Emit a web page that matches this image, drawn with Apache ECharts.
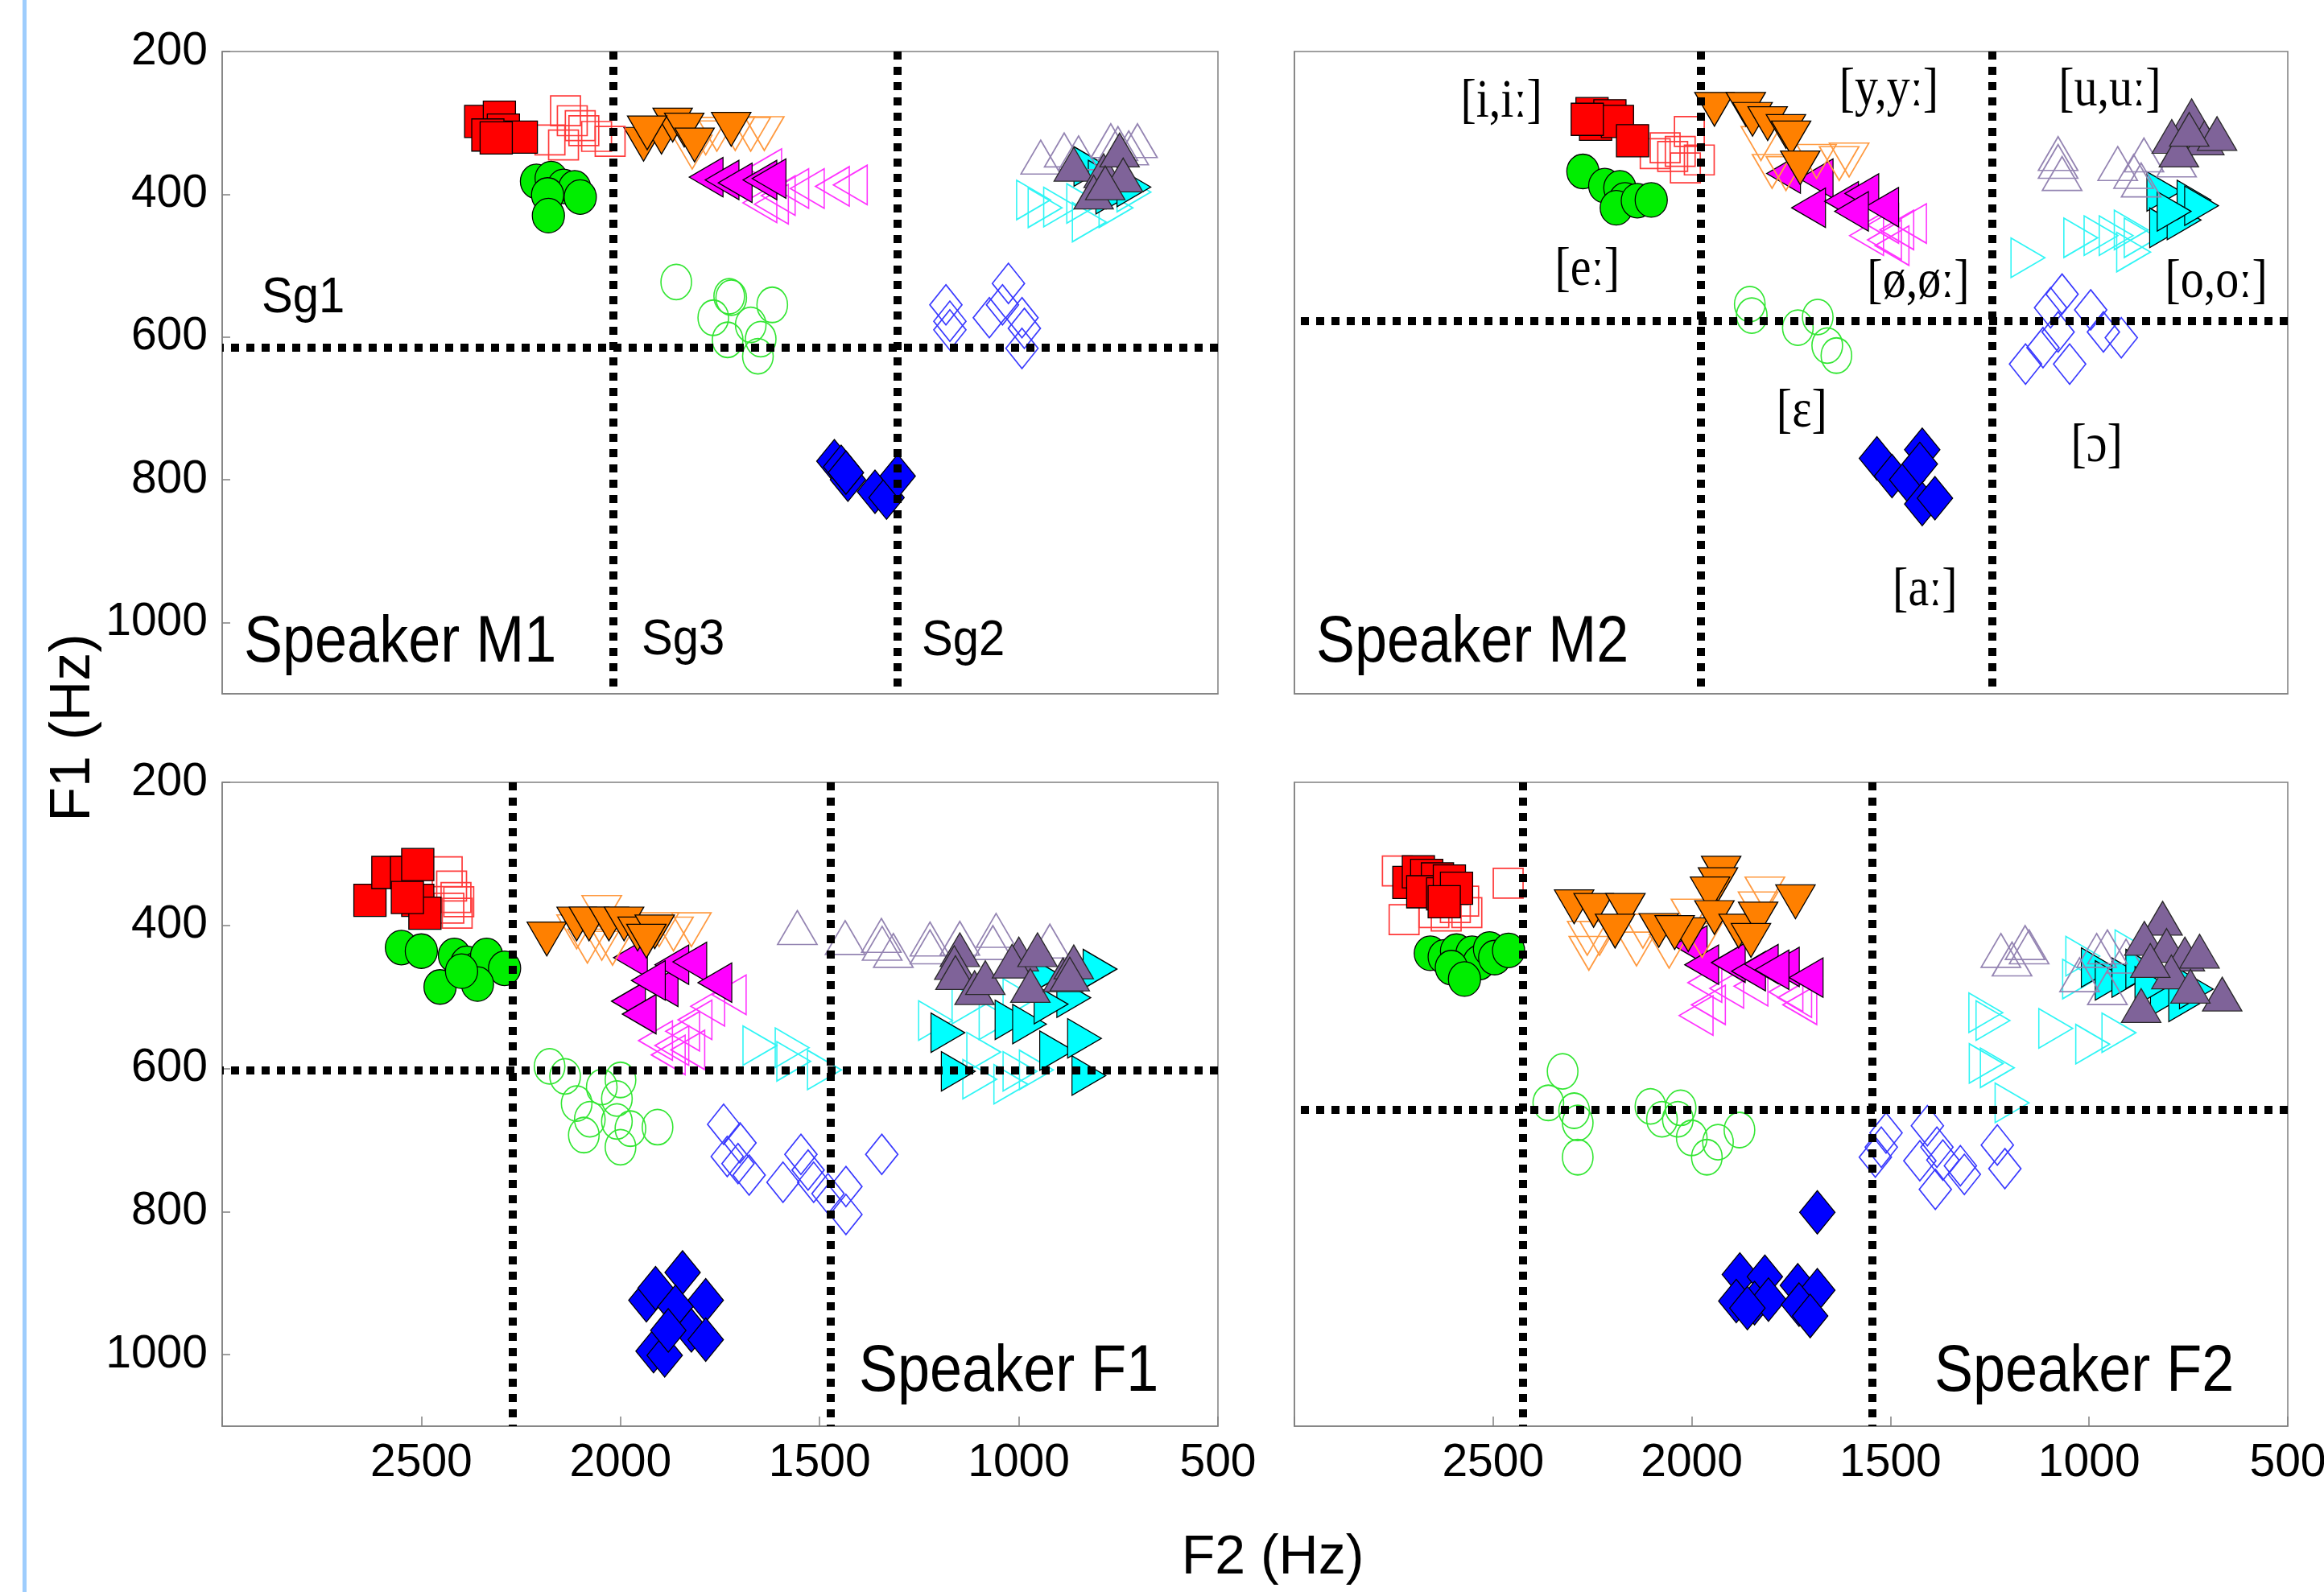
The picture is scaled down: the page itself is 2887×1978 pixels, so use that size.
<!DOCTYPE html>
<html><head><meta charset="utf-8">
<script src="https://cdn.jsdelivr.net/npm/echarts@6/dist/echarts.min.js"></script>
<style>html,body{margin:0;padding:0;background:#fff}#c{width:2887px;height:1978px}</style>
</head><body><div id="c"></div>
<script>
// ---------- tick labels ----------
const xTickLabels = [2500, 2000, 1500, 1000, 500];
const yTickLabels = [200, 400, 600, 800, 1000];
const speakers = ['Speaker M1', 'Speaker M2', 'Speaker F1', 'Speaker F2'];

// ---------- Speaker M1 ([F2, F1] in Hz) ----------
const M1_i_long = [[2351,298],[2304,292],[2294,310],[2333,317],[2249,320],[2312,321]];
const M1_i_short = [[2138,283],[2121,297],[2101,304],[2177,324],[2143,331],[2092,311],[2026,326],[2060,319]];
const M1_ee = [[2211,382],[2174,378],[2143,389],[2115,391],[2101,404],[2183,401],[2181,430]];
const M1_eps = [[1860,523],[1727,543],[1722,545],[1767,573],[1673,583],[1619,555],[1731,604],[1648,603],[1655,627]];
const M1_y_long = [[1942,330],[1897,320],[1869,303],[1840,310],[1814,331],[1722,309],[1933,314]];
const M1_y_short = [[1820,341],[1758,316],[1712,315],[1673,316],[1639,315],[1786,321]];
const M1_oe_long = [[1785,376],[1745,380],[1712,384],[1650,380],[1627,378]];
const M1_oe_short = [[1638,364],[1650,412],[1621,414],[1570,392],[1531,392],[1468,389],[1423,387],[1604,402]];
const M1_u_long = [[862,358],[787,367],[747,338],[738,373],[812,397],[783,384]];
const M1_u_short = [[945,348],[886,338],[850,342],[769,325],[751,329],[702,325],[724,335]];
const M1_o_long = [[819,361],[764,400],[738,393],[711,390],[783,380]];
const M1_o_short = [[963,408],[934,419],[895,418],[823,439],[837,413],[756,419],[711,397]];
const M1_aa = [[1463,774],[1446,782],[1429,800],[1361,817],[1332,825],[1304,795],[1434,790]];
const M1_open_o = [[1183,555],[1173,578],[1173,590],[1074,573],[1026,525],[1041,555],[992,573],[986,588],[992,616]];
const M1_bound_F2 = [2018, 1304];
const M1_bound_F1 = [615];

// ---------- Speaker M2 ----------
const M2_i_long = [[2251,287],[2242,302],[2206,290],[2187,298],[2149,325],[2263,295]];
const M2_i_short = [[2006,312],[2067,335],[2048,347],[2029,340],[1981,352],[2016,363],[2092,343]];
const M2_ee = [[2274,368],[2219,388],[2181,391],[2168,408],[2190,419],[2137,409],[2102,408]];
const M2_eps = [[1854,554],[1849,570],[1733,587],[1683,572],[1659,612],[1636,626]];
const M2_y_long = [[1943,281],[1864,281],[1847,295],[1809,301],[1763,312],[1750,321],[1727,363]];
const M2_y_short = [[1826,329],[1798,368],[1763,371],[1686,354],[1629,357],[1604,352]];
const M2_oe_long = [[1769,371],[1687,378],[1706,419],[1623,410],[1572,399],[1522,418],[1598,424]];
const M2_oe_short = [[1522,441],[1484,450],[1452,441],[1515,464],[1496,472],[1560,458]];
const M2_u_long = [[742,290],[792,319],[710,321],[678,315],[774,338],[748,309]];
const M2_u_short = [[1078,343],[1078,354],[1068,371],[928,357],[862,345],[888,368],[869,380],[780,352]];
const M2_o_long = [[812,396],[805,447],[761,436],[736,408],[717,416],[786,424]];
const M2_o_short = [[1154,489],[1021,461],[970,458],[932,458],[888,481],[894,450],[869,461]];
const M2_aa = [[1534,770],[1496,795],[1458,800],[1420,758],[1426,778],[1420,834],[1388,826]];
const M2_open_o = [[1068,540],[1097,559],[1078,593],[1116,615],[1160,638],[1049,638],[996,562],[964,593],[919,601]];
const M2_bound_F2 = [1978, 1245];
const M2_bound_F1 = [577];

// ---------- Speaker F1 ----------
const F1_i_long = [[2629,365],[2584,326],[2537,326],[2509,315],[2509,365],[2491,383],[2535,361]];
const F1_i_short = [[2435,325],[2424,345],[2413,361],[2406,367],[2410,383],[2431,376]];
const F1_ee = [[2550,431],[2500,436],[2453,486],[2417,442],[2386,453],[2363,462],[2336,442],[2291,460],[2359,482],[2399,464]];
const F1_eps = [[2178,597],[2139,611],[2110,649],[2077,671],[2047,626],[2009,642],[2000,616],[2009,674],[1975,684],[1907,682],[2092,693],[2000,710]];
const F1_y_long = [[2185,419],[2110,398],[2079,398],[2029,398],[1991,398],[1957,412],[1914,409],[1935,422]];
const F1_y_short = [[2110,409],[2083,429],[2047,425],[2020,432],[1903,406],[1867,412],[1822,406],[2047,382]];
const F1_oe_long = [[1975,445],[1980,506],[1953,524],[1898,486],[1871,455],[1826,451],[1763,480],[1930,477]];
const F1_oe_short = [[1727,497],[1781,513],[1813,532],[1844,548],[1912,561],[1871,568],[1831,574],[1880,581]];
const F1_u_long = [[1148,434],[1162,452],[1159,466],[1111,487],[1084,473],[1000,440],[1017,450],[953,434],[971,484],[889,469],[862,451],[872,468]];
const F1_u_short = [[1556,403],[1436,417],[1345,414],[1343,425],[1315,435],[1223,419],[1223,430],[1148,418],[1057,407],[1065,424],[922,422]];
const F1_o_long = [[1178,550],[1152,604],[1017,532],[973,538],[905,575],[835,558],[824,610],[796,461],[862,501],[919,510],[936,470]];
const F1_o_short = [[1650,568],[1569,571],[1565,590],[1488,602],[1209,533],[1125,510],[1098,615],[1088,577],[1057,532],[1020,622],[997,604],[956,602],[997,502]];
const F1_aa = [[1935,924],[1912,907],[1844,885],[1786,924],[1862,933],[1822,966],[1786,979],[1917,995],[1889,1001],[1880,966]];
const F1_open_o = [[1741,678],[1700,704],[1732,723],[1705,733],[1677,749],[1592,759],[1547,720],[1529,742],[1515,759],[1479,775],[1434,765],[1434,804],[1344,720]];
const F1_bound_F2 = [2270, 1472];
const F1_bound_F1 = [602];

// ---------- Speaker F2 ----------
const F2_i_long = [[2712,340],[2688,325],[2667,330],[2640,335],[2677,353],[2627,356],[2610,338],[2592,348],[2623,367]];
const F2_i_short = [[2741,324],[2724,392],[2462,341],[2574,366],[2566,382],[2595,375],[2618,387],[2649,382],[2600,350]];
const F2_ee = [[2658,439],[2623,444],[2592,436],[2572,462],[2553,439],[2535,452],[2509,433],[2496,445],[2461,435],[2605,459],[2572,475]];
const F2_eps = [[2325,604],[2361,648],[2296,659],[2287,676],[2287,724],[2104,653],[2075,671],[2028,655],[2035,671],[2000,697],[1962,724],[1934,703],[1880,686]];
const F2_y_long = [[2296,374],[2247,379],[2167,379],[2193,408],[2083,407],[2009,413],[1926,327],[1934,343],[1954,356],[1943,389],[1882,408],[1833,391],[1851,421],[1739,367],[2043,410]];
const F2_y_short = [[2263,418],[2259,439],[2232,418],[2123,408],[2139,433],[2057,436],[2002,387],[1974,421],[1816,356],[1833,377]];
const F2_oe_long = [[2004,428],[1975,455],[1908,452],[1857,464],[1825,454],[1772,458],[1712,473],[1798,462]];
const F2_oe_short = [[1967,480],[1989,526],[1958,511],[1912,488],[1851,485],[1763,493],[1728,511],[1741,501]];
const F2_u_long = [[815,390],[861,418],[805,428],[759,440],[722,436],[869,512],[665,496],[793,465],[745,485],[846,449]];
const F2_u_short = [[1222,435],[1161,424],[1151,430],[1194,447],[981,435],[954,430],[1024,469],[954,487],[907,443]];
const F2_o_long = [[977,459],[942,477],[900,473],[865,461],[803,499],[757,507],[730,489],[842,485]];
const F2_o_short = [[1260,522],[1242,533],[1084,544],[991,566],[925,550],[1259,593],[1231,599],[1194,648],[1016,443],[1024,475],[892,434]];
const F2_aa = [[1684,801],[1879,888],[1816,891],[1888,925],[1842,928],[1807,923],[1733,903],[1684,910],[1730,930],[1702,946],[1860,935]];
const F2_open_o = [[1511,690],[1523,710],[1538,724],[1407,680],[1383,710],[1426,729],[1387,769],[1368,728],[1324,736],[1314,748],[1231,707],[1212,740]];
const F2_bound_F2 = [2426, 1546];
const F2_bound_F1 = [658];

// ---------- vowel labels (Speaker M2 panel), anchored in data space ----------
const ipaText = ['[i,iː]', '[y,yː]', '[u,uː]', '[eː]', '[ø,øː]', '[o,oː]', '[ɛ]', '[ɔ]', '[aː]'];
const ipaAnchor = [[2479,271],[1504,255],[948,255],[2263,507],[1430,524],[680,524],[1723,705],[981,754],[1413,956]];

// ---------- build ----------
const panelData = [
  {aO:M1_open_o,aF:M1_aa,eO:M1_eps,oO:M1_o_short,oF:M1_o_long,uO:M1_u_short,uF:M1_u_long,oeO:M1_oe_short,oeF:M1_oe_long,yO:M1_y_short,yF:M1_y_long,iO:M1_i_short,iF:M1_i_long,eF:M1_ee,bx:M1_bound_F2,by:M1_bound_F1},
  {aO:M2_open_o,aF:M2_aa,eO:M2_eps,oO:M2_o_short,oF:M2_o_long,uO:M2_u_short,uF:M2_u_long,oeO:M2_oe_short,oeF:M2_oe_long,yO:M2_y_short,yF:M2_y_long,iO:M2_i_short,iF:M2_i_long,eF:M2_ee,bx:M2_bound_F2,by:M2_bound_F1},
  {aO:F1_open_o,aF:F1_aa,eO:F1_eps,oO:F1_o_short,oF:F1_o_long,uO:F1_u_short,uF:F1_u_long,oeO:F1_oe_short,oeF:F1_oe_long,yO:F1_y_short,yF:F1_y_long,iO:F1_i_short,iF:F1_i_long,eF:F1_ee,bx:F1_bound_F2,by:F1_bound_F1},
  {aO:F2_open_o,aF:F2_aa,eO:F2_eps,oO:F2_o_short,oF:F2_o_long,uO:F2_u_short,uF:F2_u_long,oeO:F2_oe_short,oeF:F2_oe_long,yO:F2_y_short,yF:F2_y_long,iO:F2_i_short,iF:F2_i_long,eF:F2_ee,bx:F2_bound_F2,by:F2_bound_F1}
];

const ELL = 'path://M50,0 A50,50 0 1,1 50,100 A50,50 0 1,1 50,0 Z';
const styles = [
  ['aO', 'diamond', [40,50], 0, '#3a3aff', false],
  ['aF', 'diamond', [44,54], 0, '#0000ff', true],
  ['eO', ELL, [38,44], 0, '#33e633', false],
  ['oO', 'triangle', [49,42], -90, '#30f5f5', false],
  ['oF', 'triangle', [49,42], -90, '#00ffff', true],
  ['uO', 'triangle', [49,42], 0, '#9484b2', false],
  ['uF', 'triangle', [49,42], 0, '#7f6399', true],
  ['oeO', 'triangle', [49,42], 90, '#ff33ff', false],
  ['oeF', 'triangle', [49,42], 90, '#ff00ff', true],
  ['yO', 'triangle', [49,42], 180, '#ff9a40', false],
  ['yF', 'triangle', [49,42], 180, '#ff8000', true],
  ['iO', 'rect', [37,37], 0, '#ff3a3a', false],
  ['iF', 'rect', [40,40], 0, '#ff0000', true],
  ['eF', ELL, [40,43], 0, '#00ee00', true]
];

const grids = [
  {left:276, top:64, width:1237, height:798},
  {left:1608, top:64, width:1234, height:798},
  {left:276, top:972, width:1237, height:800},
  {left:1608, top:972, width:1234, height:800}
];
const FRAME = '#808080';
const xAxes = [], yAxes = [], series = [];
grids.forEach((g, p) => {
  g.show = true; g.borderColor = FRAME; g.borderWidth = 1.5; g.containLabel = false; g.outerBoundsMode = 'none';
  const bottom = p >= 2, left = (p % 2 === 0);
  xAxes.push({
    type:'value', gridIndex:p, min:500, max:3000, interval:500, inverse:true,
    axisLine:{show:true, lineStyle:{color:FRAME, width:1.5}},
    axisTick:{show:bottom, inside:true, length:12, lineStyle:{color:FRAME, width:1.5}},
    splitLine:{show:false},
    axisLabel:{show:bottom, fontSize:57, color:'#000', fontFamily:'Liberation Sans', margin:18,
      formatter: v => xTickLabels.includes(v) ? String(v) : ''}
  });
  yAxes.push({
    type:'value', gridIndex:p, min:200, max:1100, interval:200, inverse:true,
    axisLine:{show:true, lineStyle:{color:FRAME, width:1.5}},
    axisTick:{show:left, inside:true, length:10, lineStyle:{color:FRAME, width:1.5}},
    splitLine:{show:false},
    axisLabel:{show:left, fontSize:57, color:'#000', fontFamily:'Liberation Sans', margin:18,
      formatter: v => yTickLabels.includes(v) ? String(v) : ''}
  });
  const d = panelData[p];
  styles.forEach(([k, sym, size, rot, col, filled]) => {
    series.push({
      type:'scatter', xAxisIndex:p, yAxisIndex:p, data:d[k], symbol:sym, symbolSize:size, symbolRotate:rot,
      silent:true, z:2,
      itemStyle: filled ? {color:col, borderColor: k==='uF' ? '#2a2a2a' : '#000', borderWidth:1.3, opacity:1}
                        : {color:'rgba(0,0,0,0)', borderColor:col, borderWidth:1.7, opacity:1}
    });
  });
  series.push({
    type:'scatter', xAxisIndex:p, yAxisIndex:p, data:[], silent:true, z:10,
    markLine:{symbol:['none','none'], silent:true, animation:false, label:{show:false},
      lineStyle:{color:'#000', width:10, type:[10,9], cap:'butt', opacity:1},
      emphasis:{disabled:true},
      data: d.bx.map(v => ({xAxis:v})).concat(d.by.map(v => ({yAxis:v})))}
  });
});

const SANS = '"Liberation Sans", Arial, sans-serif';
const txt = (id, t, x, y, size, sy) => ({id:id, type:'text', x:x, y:y, scaleY: sy || 1, silent:true, z:100,
  style:{text:t, font:size + 'px ' + SANS, fill:'#000', textAlign:'left', textVerticalAlign:'middle'}});

const graphic = [
  {id:'bar', type:'rect', shape:{x:28, y:0, width:5, height:1978}, style:{fill:'#9ecdfd'}, silent:true, z:100},
  txt('s0', speakers[0], 303, 800, 72, 1.12),
  txt('s1', speakers[1], 1635, 800, 72, 1.12),
  txt('s2', speakers[2], 1067, 1706, 72, 1.12),
  txt('s3', speakers[3], 2403, 1706, 72, 1.12),
  txt('g1', 'Sg1', 325, 370, 58, 1.1),
  txt('g3', 'Sg3', 797, 795, 58, 1.1),
  txt('g2', 'Sg2', 1145, 796, 58, 1.1),
  {id:'xn', type:'text', x:1581, y:1936, silent:true, z:100, style:{text:'F2 (Hz)', font:'68px ' + SANS, fill:'#000', textAlign:'center', textVerticalAlign:'middle'}},
  {id:'yn', type:'text', x:92, y:904, rotation:Math.PI/2, silent:true, z:100, style:{text:'F1 (Hz)', font:'70px ' + SANS, fill:'#000', textAlign:'center', textVerticalAlign:'middle'}}
];

const chart = echarts.init(document.getElementById('c'), null, {renderer:'canvas', width:2887, height:1978});
chart.setOption({
  animation:false,
  backgroundColor:'#fff',
  grid:grids, xAxis:xAxes, yAxis:yAxes, series:series, graphic:graphic
});
// vowel labels: positioned through the M2 panel's axes
const ipaGraphics = ipaAnchor.map((a, i) => {
  const px = chart.convertToPixel({xAxisIndex:1, yAxisIndex:1}, a);
  return {id:'ipa' + i, type:'text', x:px[0], y:px[1], scaleY:1.18, silent:true, z:100,
    style:{text:ipaText[i], font:'58px "Liberation Serif", "DejaVu Serif", serif', fill:'#000', textAlign:'center', textVerticalAlign:'middle'}};
});
chart.setOption({graphic: graphic.concat(ipaGraphics)});
</script></body></html>
